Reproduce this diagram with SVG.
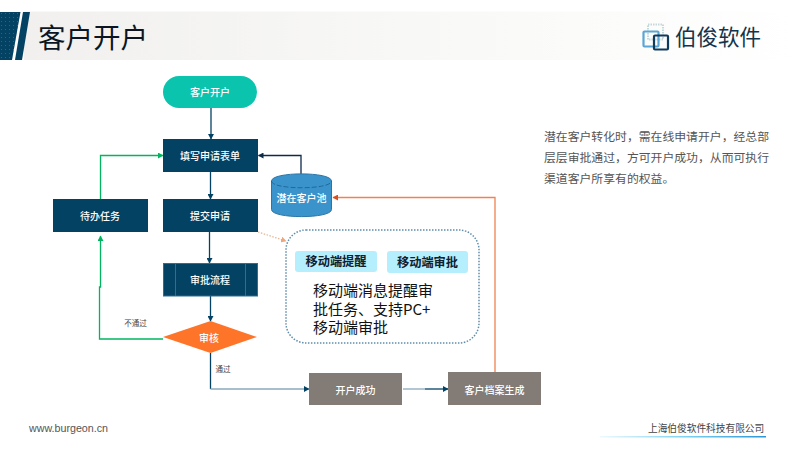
<svg xmlns="http://www.w3.org/2000/svg" width="800" height="450" viewBox="0 0 800 450">
<style>
text{font-family:"Noto Sans CJK SC","Liberation Sans",sans-serif}
.c{text-anchor:middle;dominant-baseline:central}
.n{fill:#fff;font-size:10px;font-weight:500}
.navy{fill:#044263}
.grey{fill:#827b76}
.b{fill:#b5eefc}
.bt{fill:#0d2030;font-size:12.200px;font-weight:700}
.big{fill:#111;font-size:15px}
.side{fill:#555;font-size:11.850px}
.lab{fill:#444;font-size:7.500px}
.l{fill:none;stroke-width:1.300}
</style>
<defs>
<linearGradient id="hd" x1="0" x2="1" y1="0" y2="0"><stop offset="0" stop-color="#f1f0ee"/><stop offset=".5" stop-color="#f8f8f6"/><stop offset="1" stop-color="#fff"/></linearGradient>
<linearGradient id="ft" x1="0" x2="1" y1="0" y2="0"><stop offset="0" stop-color="#eef9fd"/><stop offset=".5" stop-color="#7fd3f3"/><stop offset="1" stop-color="#2b95d6"/></linearGradient>
<pattern id="dots" width="4" height="4" patternUnits="userSpaceOnUse"><rect width="4" height="4" fill="#044263"/><rect x="1" y="1" width="1" height="1" fill="#2a6585"/></pattern>
<marker id="an" markerWidth="6" markerHeight="6" refX="5" refY="3" orient="auto" markerUnits="userSpaceOnUse"><path d="M0 0L5.500 3L0 6z" fill="#044263"/></marker>
<marker id="ag" markerWidth="6" markerHeight="6" refX="5" refY="3" orient="auto" markerUnits="userSpaceOnUse"><path d="M0 0L5.500 3L0 6z" fill="#00b560"/></marker>
<marker id="ak" markerWidth="6" markerHeight="6" refX="5" refY="3" orient="auto" markerUnits="userSpaceOnUse"><path d="M0 0L5.500 3L0 6z" fill="#0d2a4a"/></marker>
<marker id="ao" markerWidth="7" markerHeight="6" refX="5" refY="3" orient="auto" markerUnits="userSpaceOnUse"><path d="M0 0L5.500 3L0 6z" fill="#d9501e"/></marker>
<marker id="ap" markerWidth="7" markerHeight="6" refX="5" refY="3" orient="auto" markerUnits="userSpaceOnUse"><path d="M0 0L5.500 3L0 6z" fill="#eda77f"/></marker>
</defs>

<g id="header">
<rect x="24" y="11.500" width="776" height="48.500" fill="url(#hd)"/>
<polygon points="0,12 20.500,12 12,60 0,60" fill="url(#dots)"/>
<polygon points="23,12 30,12 22,60 15,60" fill="#044263"/>
<text x="38" y="47.500" font-size="27.500" fill="#0b1622">客户开户</text>
</g>
<g id="logo">
<rect x="648" y="24.500" width="15" height="15" fill="none" stroke="#c5d8dc" stroke-width="2" stroke-dasharray="1.500 1"/>
<rect x="643.500" y="31.500" width="15" height="15" rx="1" fill="none" stroke="#5ba6d4" stroke-width="2.200"/>
<rect x="654" y="35.500" width="14" height="14" rx="1" fill="none" stroke="#0f3b5c" stroke-width="2.200"/>
<text x="675" y="45" font-size="21.500" fill="#14344c">伯俊软件</text>
</g>

<g id="connectors">
<path class="l" d="M211 108V139" stroke="#044263" marker-end="url(#an)"/>
<path class="l" d="M210.500 172V199" stroke="#044263" marker-end="url(#an)"/>
<path class="l" d="M209.500 232V263" stroke="#044263" marker-end="url(#an)"/>
<path class="l" d="M210.500 296V321" stroke="#044263" marker-end="url(#an)"/>
<path class="l" d="M100.500 199V155.500H163" stroke="#00b560" marker-end="url(#ag)"/>
<path class="l" d="M163 339H99.500V287H100.500V236" stroke="#00b560" marker-end="url(#ag)"/>
<path class="l" d="M301 175V155.500H258.500" stroke="#0d2a4a" marker-end="url(#ak)"/>
<path class="l" d="M210.500 353V389" stroke="#044263"/>
<path class="l" d="M210.500 389H309" stroke="#8aa8bc" stroke-width="1.800" marker-end="url(#an)"/>
<path class="l" d="M403 389H425" stroke="#8aa8bc" stroke-width="1.800"/>
<path class="l" d="M425 389H448" stroke="#044263" marker-end="url(#an)"/>
<path class="l" d="M495 372V197.500H333" stroke="#ef8350" stroke-width="1.500" marker-end="url(#ao)"/>
<path class="l" d="M258 232L286 241" stroke="#e3b899" stroke-dasharray="1.500 1.500" marker-end="url(#ap)"/>
</g>

<g id="start"><rect x="163" y="76" width="94" height="32" rx="16" fill="#0bc4ae"/><text class="c n" x="210" y="91.500">客户开户</text></g>
<g id="fill-form"><rect class="navy" x="163" y="139" width="95" height="33"/><text class="c n" x="210" y="155">填写申请表单</text></g>
<g id="submit"><rect class="navy" x="163" y="199" width="95" height="33"/><text class="c n" x="210" y="215">提交申请</text></g>
<g id="todo"><rect class="navy" x="53" y="199" width="95" height="33"/><text class="c n" x="100" y="215">待办任务</text></g>
<g id="flow"><rect class="navy" x="163.500" y="263.500" width="94" height="32.500" stroke="#2f6d92"/><path d="M175.500 264V296M245.500 264V296" stroke="#2f6d92"/><text class="c n" x="210" y="279">审批流程</text></g>
<g id="review"><polygon points="163,337 210.500,321 257,337 210.500,353" fill="#fe7429"/><text class="c n" x="209" y="337">审核</text></g>
<g id="success"><rect class="grey" x="309" y="373" width="93" height="32"/><text class="c n" x="355.500" y="389">开户成功</text></g>
<g id="archive"><rect class="grey" x="448" y="372" width="93" height="33"/><text class="c n" x="494.500" y="389">客户档案生成</text></g>
<g id="pool">
<path d="M271.500 181C271.500 171.500 331.500 171.500 331.500 181V209.500C331.500 219 271.500 219 271.500 209.500Z" fill="#3a94cb" stroke="#2a76a8"/>
<path d="M271.500 181C271.500 190 331.500 190 331.500 181" fill="none" stroke="#1f6a9c" stroke-dasharray="5 2"/>
<text class="c" x="301.500" y="197.500" fill="#fff" font-size="10" font-weight="500">潜在客户池</text>
</g>
<g id="mobile">
<rect x="286" y="230" width="193" height="113" rx="20" fill="#fff" stroke="#5f8dab" stroke-width="1.500" stroke-dasharray="1.500 1.500"/>
<rect class="b" x="295" y="251" width="82" height="21" rx="3"/><text class="c bt" x="336" y="260.500">移动端提醒</text>
<rect class="b" x="387" y="251" width="81" height="22" rx="3"/><text class="c bt" x="427.500" y="261.500">移动端审批</text>
<text class="big" x="313" y="295.500">移动端消息提醒审</text>
<text class="big" x="313" y="314.500">批任务、支持PC+</text>
<text class="big" x="313" y="333">移动端审批</text>
</g>
<g id="labels">
<text class="lab c" x="135.500" y="322">不通过</text>
<text class="lab c" x="223" y="368">通过</text>
</g>
<g id="description">
<text class="side" x="544" y="141">潜在客户转化时，需在线申请开户，经总部</text>
<text class="side" x="544" y="162">层层审批通过，方可开户成功，从而可执行</text>
<text class="side" x="544" y="183">渠道客户所享有的权益。</text>
</g>
<g id="footer">
<text x="29" y="432" font-size="10.700" fill="#555" style="font-family:'Liberation Sans',sans-serif">www.burgeon.cn</text>
<text x="648" y="432" font-size="9.700" fill="#444">上海伯俊软件科技有限公司</text>
<rect x="600" y="436" width="166" height="1.500" fill="url(#ft)"/>
</g>
</svg>
